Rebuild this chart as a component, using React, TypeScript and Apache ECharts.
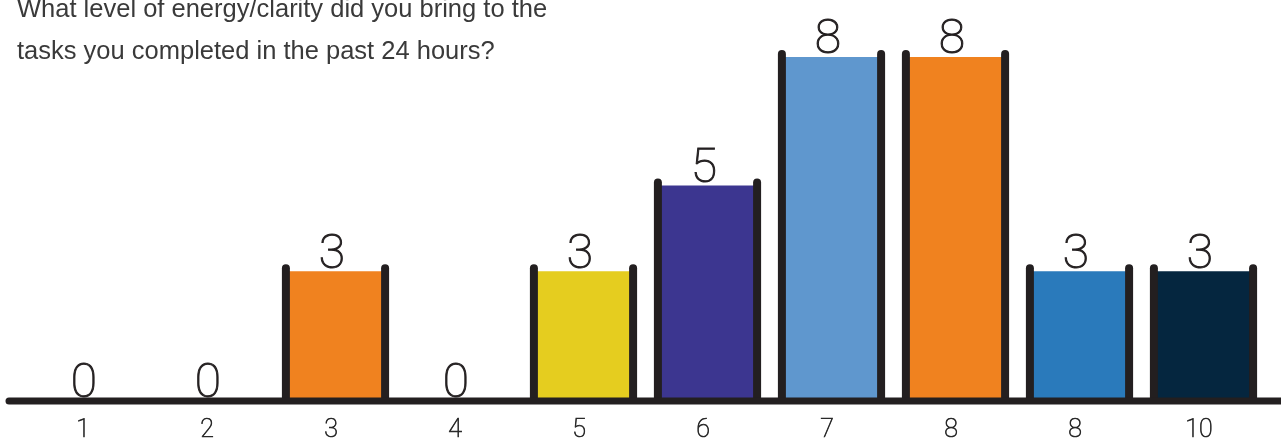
import React, { useEffect, useRef } from "react";
import * as echarts from "echarts";

// Survey responses: energy/clarity level vs. number of responses
const categories = ["1", "2", "3", "4", "5", "6", "7", "8", "8", "10"];
const values = [0, 0, 3, 0, 3, 5, 8, 8, 3, 3];
const barColors = [
  "#F0821F",
  "#F0821F",
  "#F0821F",
  "#F0821F",
  "#E5CD1F",
  "#3C3690",
  "#5F97CE",
  "#F0821F",
  "#2A7ABB",
  "#05263F",
];
const titleLines = [
  "What level of energy/clarity did you bring to the",
  "tasks you completed in the past 24 hours?",
];

const INK = "#231F20";
const LABEL_FONT = "Roboto, 'Liberation Sans', sans-serif";

export default function App() {
  const ref = useRef<HTMLDivElement>(null);

  useEffect(() => {
    if (!ref.current) return;
    const chart = echarts.init(ref.current, null, { renderer: "svg" });

    const renderItem = (params: any, api: any) => {
      const i = api.value(0);
      const v = api.value(1);
      const [cx, top] = api.coord([i, v]);
      const base = api.coord([i, 0])[1];
      const band = api.size([1, 0])[0];
      const half = band * 0.4;
      const bx = cx + 4.5;
      const children: any[] = [];
      if (v > 0) {
        children.push({
          type: "rect",
          shape: { x: bx - half, y: top, width: half * 2, height: base - top },
          style: { fill: barColors[i] },
        });
        [bx - half, bx + half].forEach((x) =>
          children.push({
            type: "line",
            shape: { x1: x, y1: top - 3, x2: x, y2: base },
            style: { stroke: INK, lineWidth: 8, lineCap: "round" },
          })
        );
      }
      children.push({
        type: "text",
        x: cx + 1,
        y: top + 4,
        style: {
          text: String(v),
          fontSize: 48,
          fontFamily: LABEL_FONT,
          fontWeight: 100,
          fill: INK,
          stroke: INK,
          lineWidth: 1,
          align: "center",
          verticalAlign: "bottom",
        },
      });
      return { type: "group", children };
    };

    chart.setOption({
      animation: false,
      grid: { left: 21, right: 20, top: 14, bottom: 42 },
      xAxis: {
        type: "category",
        data: categories,
        axisLine: { show: false },
        axisTick: { show: false },
        axisLabel: {
          fontSize: 25,
          fontFamily: LABEL_FONT,
          fontWeight: 100,
          color: "#2a2a2a",
          textBorderColor: "#2a2a2a",
          textBorderWidth: 0.7,
          margin: 16,
        },
      },
      yAxis: {
        type: "value",
        min: 0,
        max: 9,
        show: false,
        splitLine: { show: false },
      },
      series: [
        {
          type: "custom",
          renderItem,
          encode: { x: 0, y: 1 },
          data: values.map((v, i) => [i, v]),
          z: 2,
        },
      ],
      graphic: [
        {
          type: "line",
          z: 100,
          shape: { x1: 9, y1: 401, x2: 1290, y2: 401 },
          style: { stroke: INK, lineWidth: 7, lineCap: "round" },
        },
        ...titleLines.map((t, k) => ({
          type: "text",
          left: 17,
          top: -5 + k * 42,
          style: {
            text: t,
            fontSize: 25.5,
            fontFamily: "'Liberation Sans', Arial, sans-serif",
            fill: "#3a3a3a",
          },
        })),
      ],
    });

    return () => chart.dispose();
  }, []);

  return (
    <div
      ref={ref}
      style={{ position: "fixed", left: 0, top: 0, width: 1281, height: 442 }}
    />
  );
}
